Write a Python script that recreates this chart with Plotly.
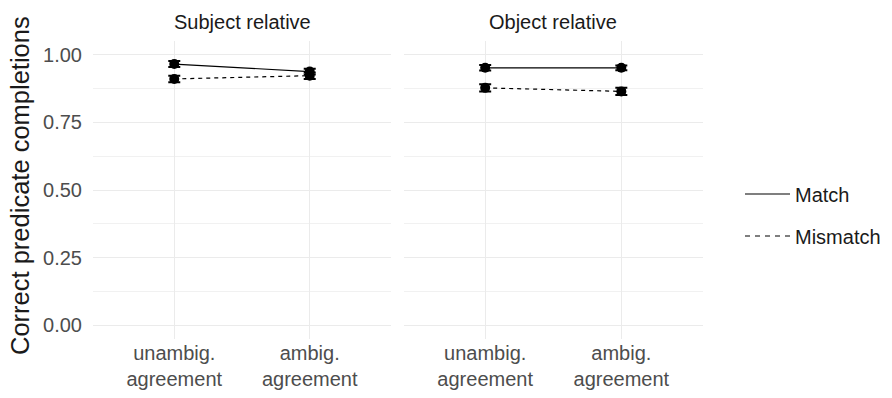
import plotly.graph_objects as go

# Condition labels along the x axis of each panel
conditions = ["unambig.<br>agreement", "ambig.<br>agreement"]
panels = ["Subject relative", "Object relative"]

# Proportion of correct predicate completions (means) and standard errors
subj_match = [0.965, 0.937]
subj_mismatch = [0.910, 0.922]
obj_match = [0.951, 0.951]
obj_mismatch = [0.877, 0.864]

subj_match_se = [0.011, 0.011]
subj_mismatch_se = [0.012, 0.012]
obj_match_se = [0.010, 0.009]
obj_mismatch_se = [0.013, 0.013]

y_ticks = [0.0, 0.25, 0.5, 0.75, 1.0]
y_tick_labels = ["0.00", "0.25", "0.50", "0.75", "1.00"]

W, H = 892, 398
FONT = "Liberation Sans, Arial, sans-serif"
TICK_COLOR = "#4d4d4d"
TEXT_COLOR = "#1a1a1a"
GRID = "#ebebeb"
BASE = 20

fig = go.Figure()

positions = [1, 2]

series = [
    ("x", "y", subj_match, subj_match_se, "solid"),
    ("x", "y", subj_mismatch, subj_mismatch_se, "dash"),
    ("x2", "y2", obj_match, obj_match_se, "solid"),
    ("x2", "y2", obj_mismatch, obj_mismatch_se, "dash"),
]

for xa, ya, vals, se, dash in series:
    fig.add_trace(go.Scatter(
        x=positions, y=vals, xaxis=xa, yaxis=ya,
        mode="lines+markers",
        line=dict(color="black", width=1.2, dash="4px,4px" if dash == "dash" else "solid"),
        marker=dict(color="black", size=10),
        error_y=dict(type="data", array=se, color="black", thickness=2, width=6),
        showlegend=False, hoverinfo="skip",
    ))

# Legend entries (line key only)
for name, dash, grp in [("Match", "solid", "a"), ("Mismatch", "5px,5px", "b")]:
    fig.add_trace(go.Scatter(
        x=[None], y=[None], mode="lines", name=name, legendgroup=grp,
        line=dict(color="black", width=1.2, dash=dash),
    ))

x_dom1 = [93 / W, 391 / W]
x_dom2 = [403.5 / W, 703 / W]
y_dom = [1 - 339 / H, 1 - 41 / H]

xaxis_common = dict(
    range=[0.4, 2.6], tickvals=positions, ticktext=conditions,
    showgrid=True, gridcolor=GRID, gridwidth=1.2, zeroline=False,
    showline=False, ticks="", tickfont=dict(family=FONT, size=BASE, color=TICK_COLOR),
    fixedrange=True,
)
yaxis_common = dict(
    range=[-0.05, 1.05], tickvals=y_ticks, ticktext=y_tick_labels,
    showgrid=True, gridcolor=GRID, gridwidth=1.2, zeroline=False,
    showline=False, domain=y_dom,
    minor=dict(showgrid=True, gridcolor="#f1f1f1", gridwidth=1, dtick=0.125),
    tickfont=dict(family=FONT, size=BASE, color=TICK_COLOR),
)

fig.update_layout(
    width=W, height=H,
    margin=dict(l=0, r=0, t=0, b=0),
    paper_bgcolor="white", plot_bgcolor="white",
    xaxis=dict(domain=x_dom1, anchor="y", **xaxis_common),
    xaxis2=dict(domain=x_dom2, anchor="y2", **xaxis_common),
    # invisible tick marks leave a gap between the labels and the panel
    yaxis=dict(anchor="x", showticklabels=True, ticks="outside", ticklen=6,
               tickcolor="rgba(0,0,0,0)", **yaxis_common),
    yaxis2=dict(anchor="x2", showticklabels=False, ticks="", **yaxis_common),
    legend=dict(
        x=740 / W, y=1 - 215 / H, xanchor="left", yanchor="middle",
        font=dict(family=FONT, size=BASE, color=TEXT_COLOR),
        tracegroupgap=13, itemwidth=45, bgcolor="rgba(0,0,0,0)",
    ),
    showlegend=True,
)

# Panel strip titles
for title, dom in zip(panels, [x_dom1, x_dom2]):
    fig.add_annotation(
        text=title, x=(dom[0] + dom[1]) / 2, y=1 - 22 / H,
        xref="paper", yref="paper", showarrow=False,
        font=dict(family=FONT, size=BASE, color=TEXT_COLOR),
        xanchor="center", yanchor="middle",
    )

# Shared y axis title
fig.add_annotation(
    text="Correct predicate completions", x=20 / W, y=1 - 186 / H,
    xref="paper", yref="paper", showarrow=False, textangle=-90,
    font=dict(family=FONT, size=25.5, color=TEXT_COLOR),
    xanchor="center", yanchor="middle",
)

fig.write_html("out.html")
